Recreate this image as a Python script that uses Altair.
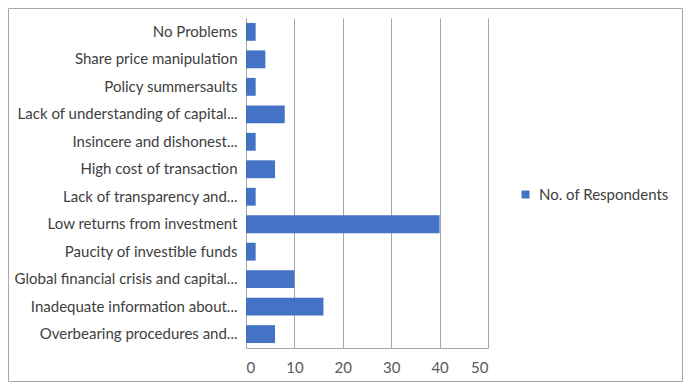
import altair as alt
import pandas as pd

categories = [
    "No Problems",
    "Share price manipulation",
    "Policy summersaults",
    "Lack of understanding of capital...",
    "Insincere and dishonest...",
    "High cost of transaction",
    "Lack of transparency and...",
    "Low returns from investment",
    "Paucity of investible funds",
    "Global financial crisis and capital...",
    "Inadequate information about...",
    "Overbearing procedures and...",
]
values = [2, 4, 2, 8, 2, 6, 2, 40, 2, 10, 16, 6]
series = ["No. of Respondents"] * len(categories)

df = pd.DataFrame({"category": categories, "value": values, "series": series})

FONT = "Lato"

bars = alt.Chart(df).mark_bar(color="#4472C4").encode(
    y=alt.Y("category:N", sort=categories, title=None,
            scale=alt.Scale(paddingInner=0.35, paddingOuter=0.18),
            axis=alt.Axis(labelFont=FONT, labelFontSize=15, labelColor="#404040",
                          labelPadding=9, ticks=False, domainColor="#a6a6a6",
                          labelLimit=260)),
    x=alt.X("value:Q", title=None,
            scale=alt.Scale(domain=[0, 50]),
            axis=alt.Axis(values=[0, 10, 20, 30, 40, 50], labelFont=FONT, labelFontSize=15,
                          labelColor="#595959", ticks=False, labelPadding=12,
                          grid=True, gridColor="#a6a6a6", domainColor="#a6a6a6")),
    fill=alt.Fill("series:N", scale=alt.Scale(range=["#4472C4"]),
                  legend=alt.Legend(title=None, orient="none", legendX=272, legendY=169,
                                    symbolType="square", symbolSize=64, labelOffset=6,
                                    labelFont=FONT, labelFontSize=15, labelColor="#404040")),
)

border = alt.Chart(pd.DataFrame({"a": [0]})).mark_rect(
    fill=None, stroke="#a6a6a6", strokeWidth=1, clip=False
).encode(
    x=alt.value(-237.5), x2=alt.value(436.5), y=alt.value(-9.5), y2=alt.value(363.5)
)

chart = alt.layer(bars, border).properties(
    width=242, height=330,
    autosize=alt.AutoSizeParams(type="none"),
    padding={"left": 238, "top": 10, "right": 195, "bottom": 34},
    background="white",
).configure_view(stroke=None)

chart.save("out.html", embed_options={"renderer": "svg", "actions": False})
